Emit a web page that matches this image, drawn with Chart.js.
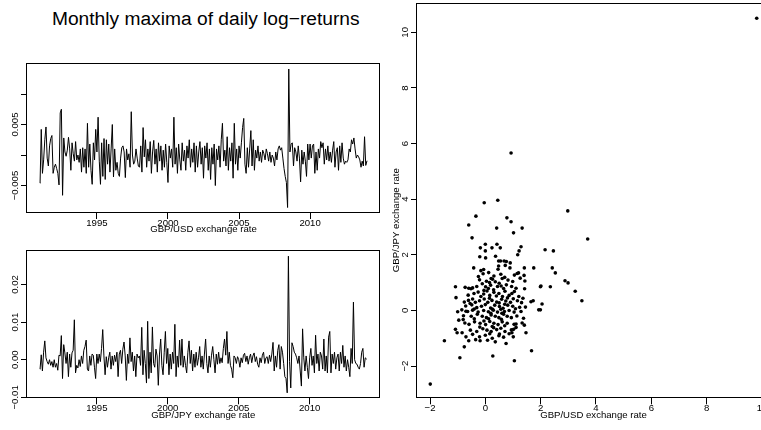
<!DOCTYPE html>
<html>
<head>
<meta charset="utf-8">
<script src="https://cdn.jsdelivr.net/npm/chart.js@4.4.1/dist/chart.umd.min.js"></script>
<style>
html, body { margin:0; padding:0; width:761px; height:430px; overflow:hidden; background:#fff; }
canvas { position:absolute; }
#mainTitle { position:absolute; left:0; top:8.75px; width:411.6px; text-align:center;
  font: 19.2px/19.2px "Liberation Sans", Arial, Helvetica, sans-serif; color:#000; white-space:nowrap; }
</style>
</head>
<body>
<div id="mainTitle">Monthly maxima of daily log−returns</div>
<canvas id="usdChart" width="400" height="210" style="left:0;top:40px;width:400px;height:210px"></canvas>
<canvas id="jpyChart" width="400" height="190" style="left:0;top:240px;width:400px;height:190px"></canvas>
<canvas id="scatterChart" width="400" height="430" style="left:390px;top:0;width:400px;height:430px"></canvas>
<script>
// ---------------- data ----------------
const startYear = 1991;            // first month: Jan 1991, monthly steps

// GBP/USD monthly maxima of daily log-returns (Jan 1991 .. Jan 2014)
const gbpUsd = [
  -0.0046, 0.0042, -0.0030, -0.0008, 0.0025, 0.0046, -0.0005, -0.0018, 0.0015, 0.0027, 0.0032, -0.0030,
  -0.0020, -0.0015, -0.0022, -0.0030, -0.0049, 0.0069, 0.0075, -0.0066, 0.0028, 0.0005, -0.0002, 0.0008,
  0.0029, 0.0010, -0.0025, 0.0020, 0.0002, -0.0010, 0.0022, -0.0008, 0.0000, -0.0012, 0.0010, -0.0028,
  0.0012, -0.0020, 0.0010, -0.0030, 0.0052, -0.0020, 0.0018, -0.0025, -0.0048, 0.0020, -0.0008, 0.0042,
  0.0005, 0.0062, -0.0010, -0.0048, 0.0020, -0.0035, 0.0027, -0.0040, 0.0025, -0.0015, 0.0018, -0.0028,
  0.0010, 0.0050, -0.0036, 0.0010, -0.0025, -0.0012, -0.0030, -0.0035, -0.0005, 0.0012, 0.0015, 0.0005,
  -0.0037, 0.0010, -0.0008, 0.0002, -0.0020, 0.0071, 0.0000, -0.0015, -0.0010, 0.0010, -0.0005, -0.0018,
  -0.0020, 0.0015, -0.0028, 0.0045, -0.0003, 0.0025, -0.0020, 0.0010, -0.0010, 0.0022, -0.0030, 0.0005,
  0.0024, -0.0015, 0.0010, -0.0028, 0.0020, -0.0010, 0.0015, -0.0025, 0.0008, -0.0020, 0.0018, -0.0012,
  -0.0045, 0.0015, -0.0005, 0.0010, -0.0020, 0.0062, -0.0015, 0.0012, -0.0030, 0.0018, -0.0008, -0.0025,
  0.0020, -0.0010, 0.0008, -0.0025, 0.0015, -0.0005, 0.0025, -0.0020, 0.0010, -0.0012, 0.0020, -0.0028,
  0.0015, -0.0020, 0.0005, 0.0022, -0.0015, 0.0012, -0.0038, 0.0015, -0.0005, 0.0020, -0.0025, 0.0010,
  -0.0040, 0.0012, -0.0015, 0.0018, -0.0050, 0.0010, -0.0008, 0.0015, -0.0020, 0.0025, 0.0052, -0.0010,
  0.0008, -0.0018, 0.0030, -0.0025, 0.0012, -0.0010, 0.0020, -0.0038, 0.0052, -0.0015, 0.0010, -0.0025,
  0.0015, -0.0005, 0.0020, 0.0045, 0.0060, -0.0015, -0.0030, 0.0012, -0.0020, 0.0010, 0.0040, -0.0018,
  0.0025, -0.0025, 0.0008, -0.0005, 0.0015, -0.0010, 0.0005, -0.0012, 0.0008, 0.0002, -0.0008, 0.0010,
  0.0002, -0.0010, 0.0005, -0.0012, 0.0000, -0.0005, -0.0018, 0.0005, -0.0008, 0.0010, 0.0015, 0.0008,
  0.0012, -0.0005, -0.0022, -0.0035, -0.0045, -0.0086, 0.0141, 0.0005, 0.0018, 0.0020, -0.0018, 0.0012,
  0.0005, -0.0010, 0.0015, -0.0005, -0.0044, 0.0008, -0.0015, 0.0005, -0.0010, -0.0035, 0.0018, -0.0008,
  0.0018, -0.0005, 0.0015, 0.0018, -0.0030, 0.0005, -0.0025, 0.0010, -0.0005, 0.0022, 0.0012, 0.0020,
  -0.0015, 0.0010, -0.0008, 0.0015, -0.0010, 0.0005, -0.0012, 0.0008, 0.0022, -0.0020, 0.0005, 0.0012,
  -0.0025, 0.0015, -0.0012, 0.0020, -0.0005, -0.0015, -0.0010, -0.0012, -0.0008, 0.0010, 0.0005, 0.0025,
  0.0018, 0.0028, 0.0010, -0.0005, 0.0000, -0.0003, -0.0008, -0.0020, -0.0010, -0.0018, 0.0030, -0.0017,
  -0.0010
];

// GBP/JPY monthly maxima of daily log-returns (Jan 1991 .. Jan 2014)
const gbpJpy = [
  -0.0025, 0.0013, -0.0030, 0.0020, 0.0050, 0.0005, -0.0005, -0.0012, 0.0000, -0.0015, -0.0005, -0.0020,
  0.0000, -0.0020, -0.0010, -0.0028, 0.0012, 0.0010, 0.0064, -0.0050, 0.0040, 0.0018, -0.0010, 0.0020,
  -0.0045, 0.0015, -0.0020, 0.0018, 0.0025, 0.0106, -0.0035, -0.0015, -0.0022, 0.0000, -0.0018, 0.0010,
  -0.0010, 0.0025, 0.0035, 0.0052, -0.0025, -0.0030, 0.0010, -0.0015, 0.0015, 0.0012, -0.0020, -0.0050,
  0.0015, -0.0010, 0.0015, -0.0005, 0.0030, 0.0080, 0.0010, -0.0040, 0.0008, -0.0020, 0.0005, 0.0020,
  -0.0025, 0.0010, -0.0015, 0.0012, -0.0005, 0.0020, -0.0045, 0.0015, 0.0025, -0.0010, 0.0028, 0.0047,
  0.0010, -0.0055, 0.0015, -0.0010, 0.0058, -0.0005, 0.0020, -0.0030, 0.0010, -0.0045, 0.0015, 0.0005,
  0.0010, -0.0015, 0.0086, -0.0040, 0.0025, -0.0010, -0.0062, 0.0102, -0.0050, 0.0020, -0.0035, 0.0087,
  -0.0010, -0.0020, 0.0028, 0.0010, -0.0068, 0.0015, 0.0055, -0.0015, -0.0040, 0.0020, 0.0075, -0.0010,
  0.0030, -0.0040, 0.0015, -0.0025, 0.0020, -0.0010, 0.0094, -0.0045, 0.0010, -0.0020, 0.0052, -0.0015,
  0.0055, -0.0020, 0.0010, -0.0015, -0.0035, 0.0020, 0.0050, -0.0010, 0.0025, -0.0030, 0.0015, -0.0020,
  0.0020, -0.0015, 0.0005, 0.0035, -0.0020, 0.0010, -0.0025, 0.0015, 0.0055, -0.0010, -0.0035, 0.0010,
  -0.0020, 0.0012, 0.0035, 0.0000, -0.0035, 0.0015, -0.0012, 0.0020, -0.0010, 0.0005, -0.0008, 0.0030,
  0.0055, 0.0012, 0.0075, -0.0010, 0.0020, -0.0015, -0.0025, -0.0048, 0.0010, 0.0005, -0.0010, 0.0008,
  0.0000, -0.0020, 0.0005, -0.0008, 0.0012, 0.0017, -0.0005, 0.0010, -0.0012, 0.0005, 0.0015, -0.0008,
  0.0010, 0.0018, -0.0005, 0.0008, -0.0012, -0.0020, 0.0005, -0.0008, 0.0012, 0.0020, -0.0010, 0.0005,
  0.0008, -0.0010, 0.0012, -0.0005, 0.0015, 0.0046, -0.0030, 0.0010, -0.0020, 0.0025, 0.0040, -0.0025,
  0.0035, 0.0020, -0.0010, -0.0045, -0.0050, -0.0088, 0.0275, -0.0005, -0.0075, 0.0045, 0.0035, 0.0020,
  0.0015, 0.0005, -0.0010, 0.0010, -0.0030, -0.0070, 0.0082, 0.0005, -0.0030, 0.0010, -0.0020, -0.0050,
  0.0005, 0.0030, -0.0015, 0.0010, -0.0035, 0.0065, -0.0010, 0.0015, -0.0030, 0.0020, 0.0010, -0.0025,
  0.0055, -0.0030, 0.0010, -0.0035, 0.0060, 0.0075, -0.0035, 0.0015, -0.0010, 0.0020, -0.0025, 0.0005,
  0.0015, -0.0030, 0.0020, -0.0010, 0.0038, -0.0020, 0.0010, -0.0030, 0.0000, -0.0020, -0.0045, 0.0030,
  -0.0010, 0.0153, 0.0000, -0.0010, -0.0012, -0.0020, -0.0025, -0.0010, 0.0020, 0.0030, -0.0020, 0.0005,
  0.0002
];

// Scatter: transformed GBP/USD (x) vs GBP/JPY (y)
const scatterUsd = [
  9.81, 0.93, -0.04, 0.45, 2.98, -0.34, -0.60, 0.78, 0.93, 0.41,
  1.33, 1.02, -0.48, 3.70, 0.00, 0.42, -0.18, 0.24, 0.54, 1.29,
  0.00, 2.16, 2.46, 1.22, 1.17, 0.37, -0.20, 0.01, 0.48, 0.55,
  0.68, 0.76, 0.72, 0.90, 0.48, 0.46, -0.42, -0.06, -0.16, 0.89,
  1.41, 1.75, 2.42, 2.53, 1.20, 2.88, 2.99, 3.25, 3.49, 2.35,
  1.99, 2.01, 1.99, 1.93, 2.05, 1.65, 1.73, -1.08, -0.73, -0.60,
  -0.52, -1.06, -1.00, -0.96, -0.80, -0.70, -1.08, -1.02, -0.84, -0.70,
  -1.48, -0.60, -0.76, -0.92, 0.27, 1.05, 1.67, -1.99, -0.19, 0.08,
  0.36, 0.75, 0.51, 0.96, 1.02, 1.47, 1.41, 1.33, 1.11, 1.38,
  -0.08, 0.12, 0.31, 0.56, 0.70, 1.05, 1.15, 1.40, 0.21, -0.25,
  -0.21, 0.04, 0.26, 0.36, 0.61, 0.82, 0.99, 1.26, 1.43, -0.11, 0.50, 0.15,
  -0.46, -0.31, 0.01, 0.11, 0.19, 0.44, 0.66, 0.76, 0.95, 1.11, 1.42, -0.05, 0.30, 0.57,
  -0.62, -0.41, -0.26, -0.06, 0.06, 0.16, 0.31, 0.49, 0.71, 0.86, 0.96, 1.21, -0.16, 0.40, 0.62, 1.05,
  -0.76, -0.61, -0.46, -0.36, -0.21, -0.04, 0.09, 0.24, 0.41, 0.59, 0.74, 0.91, 1.01, 1.16, 1.31, 1.36, -0.55, 0.15, 0.50, 0.80,
  -0.71, -0.49, -0.31, -0.14, 0.00, 0.19, 0.34, 0.51, 0.64, 0.81, 0.99, 1.09, 1.24, -0.40, 0.25, 0.70, 1.45,
  -0.64, -0.46, -0.26, -0.06, 0.11, 0.29, 0.44, 0.56, 0.69, 0.86, 1.04, 1.29, -0.85, 0.20, 0.60,
  -0.51, -0.29, -0.11, 0.04, 0.21, 0.36, 0.49, 0.66, 0.79, 0.94, 1.14, -0.79, 0.12, 0.58, -0.40,
  -0.59, -0.39, -0.19, 0.01, 0.16, 0.31, 0.46, 0.61, 0.79, 1.04, -0.74, -0.05, 0.70, 0.25,
  -0.54, -0.31, -0.09, 0.06, 0.21, 0.41, 0.56, 0.71, 0.94, 1.11, -0.20, 0.30,
  -0.46, -0.21, 0.00, 0.16, 0.49, 0.66, 0.86, 1.01, -0.35, 0.25
];
const scatterJpy = [
  10.51, 5.66, 3.87, 3.96, 3.58, 3.39, 3.07, 3.33, 3.19, 2.96,
  2.96, 2.79, 2.61, 2.57, 2.38, 2.38, 2.25, 2.25, 2.25, 2.29,
  2.14, 2.18, 2.14, 2.14, 2.00, 1.95, 1.93, 1.89, 1.78, 1.78,
  1.78, 1.76, 1.62, 1.71, 1.60, 1.48, 1.53, 1.47, 1.43, 1.53,
  1.53, 1.53, 1.53, 1.35, 1.35, 1.07, 0.99, 0.69, 0.35, 0.85,
  0.85, 0.88, 0.02, 0.02, 0.23, 0.31, 0.35, 0.85, 0.83, 0.80,
  0.78, 0.46, -0.05, -0.35, -0.33, -0.03, -0.68, -0.80, -0.80, -0.95,
  -1.09, -1.09, -1.31, -1.70, -1.64, -1.81, -1.45, -2.65, -1.09, -1.07,
  -1.13, -1.19, -0.85, -0.80, -0.68, -0.80, -0.53, -0.45, -0.49, -0.28,
  1.32, 1.36, 1.24, 1.30, 1.19, 1.27, 1.33, 1.26, 1.15, 1.22,
  1.10, 1.05, 1.12, 1.03, 1.15, 1.09, 1.04, 1.16, 1.06, 0.96, 0.98, 1.00,
  0.81, 0.86, 0.85, 0.79, 0.91, 0.86, 0.79, 0.92, 0.86, 0.80, 0.78, 0.72, 0.74, 0.88,
  0.55, 0.61, 0.66, 0.59, 0.70, 0.54, 0.65, 0.61, 0.69, 0.54, 0.61, 0.50, 0.50, 0.52, 0.50, 0.68,
  0.30, 0.36, 0.41, 0.29, 0.35, 0.41, 0.29, 0.36, 0.30, 0.40, 0.34, 0.29, 0.42, 0.35, 0.28, 0.44, 0.25, 0.44, 0.27, 0.45,
  0.16, 0.20, 0.10, 0.15, 0.21, 0.09, 0.19, 0.14, 0.08, 0.19, 0.15, 0.06, 0.11, 0.05, 0.05, 0.22, 0.12,
  -0.04, 0.01, -0.06, 0.00, -0.05, 0.01, -0.06, 0.04, -0.04, 0.00, -0.06, -0.04, 0.02, -0.10, -0.10,
  -0.21, -0.14, -0.21, -0.26, -0.16, -0.21, -0.26, -0.14, -0.21, -0.26, -0.20, -0.19, -0.30, -0.32, -0.30,
  -0.50, -0.41, -0.46, -0.51, -0.40, -0.46, -0.51, -0.41, -0.46, -0.50, -0.45, -0.38, -0.55, -0.58,
  -0.71, -0.76, -0.66, -0.71, -0.76, -0.69, -0.64, -0.76, -0.70, -0.61, -0.60, -0.62,
  -0.86, -0.95, -0.89, -0.84, -0.91, -0.96, -0.84, -0.95, -1.05, -1.00
];

// tick values and labels
const yearTicks = [1995, 2000, 2005, 2010];
const yearLabels = ['1995', '2000', '2005', '2010'];
const usdYTicks = [-0.005, 0, 0.005, 0.010];
const usdYLabels = ['−0.005', '', '0.005', ''];
const jpyYTicks = [-0.01, 0, 0.01, 0.02];
const jpyYLabels = ['−0.01', '0.00', '0.01', '0.02'];
const scatterTicks = [-2, 0, 2, 4, 6, 8, 10];
const scatterLabels = ['−2', '0', '2', '4', '6', '8', '10'];

// ---------------- drawing ----------------
const FONT = '"Liberation Sans", Arial, Helvetica, sans-serif';
const FS = 9.6;
const monthTimes = gbpUsd.map((_, i) => startYear + i / 12);

const rFrame = {
  id: 'rFrame',
  afterDraw(chart, _args, o) {
    const { ctx, chartArea: a } = chart;
    const L = Math.round(a.left), T = Math.round(a.top), R = Math.round(a.right), B = Math.round(a.bottom);
    ctx.save();
    ctx.strokeStyle = '#000';
    ctx.lineWidth = 1;
    ctx.strokeRect(L - 0.5, T - 0.5, R - L, B - T);
    ctx.fillStyle = '#000';
    ctx.font = FS + 'px ' + FONT;
    ctx.textAlign = 'center';
    ctx.textBaseline = 'middle';
    const ys = chart.scales.y;
    o.yTicks.forEach((v, i) => {
      const lab = o.yLabels[i];
      if (!lab) return;
      ctx.save();
      ctx.translate(a.left - o.yLabelGap, ys.getPixelForValue(v));
      ctx.rotate(-Math.PI / 2);
      ctx.fillText(lab, 0, 0);
      ctx.restore();
    });
    ctx.fillText(o.xTitle, (a.left + a.right) / 2, a.bottom + o.xTitleGap);
    if (o.yTitle) {
      ctx.save();
      ctx.translate(a.left - o.yTitleGap, (a.top + a.bottom) / 2 + o.yTitleShift);
      ctx.rotate(-Math.PI / 2);
      ctx.fillText(o.yTitle, 0, 0);
      ctx.restore();
    }
    ctx.restore();
  }
};

function xAxis(min, max, ticks, labels, height) {
  return {
    type: 'linear', min, max,
    afterBuildTicks: ax => { ax.ticks = ticks.map(v => ({ value: v })); },
    afterFit: ax => { ax.height = height; },
    grid: { drawOnChartArea: false, drawTicks: true, tickLength: 6, color: '#000', tickColor: '#000', lineWidth: 1 },
    border: { display: false },
    ticks: { display: true, autoSkip: false, maxRotation: 0, minRotation: 0, padding: -1.4,
      color: '#000', font: { family: FONT, size: FS }, callback: (v, i) => labels[i] }
  };
}
function yAxis(min, max, ticks) {
  return {
    type: 'linear', min, max,
    afterBuildTicks: ax => { ax.ticks = ticks.map(v => ({ value: v })); },
    afterFit: ax => { ax.width = 27; },
    grid: { drawOnChartArea: false, drawTicks: true, tickLength: 6, color: '#000', tickColor: '#000', lineWidth: 1 },
    border: { display: false },
    ticks: { display: false }
  };
}
function baseOptions(padding, scales, frame) {
  return {
    responsive: false, animation: false, events: [],
    layout: { padding },
    scales,
    plugins: { legend: { display: false }, tooltip: { enabled: false }, title: { display: false }, rFrame: frame }
  };
}
function lineDataset(values) {
  return {
    data: values.map((v, i) => ({ x: monthTimes[i], y: v })),
    borderColor: '#000', borderWidth: 1, pointRadius: 0, tension: 0, fill: false,
    borderJoinStyle: 'round', borderCapStyle: 'round'
  };
}

new Chart(document.getElementById('usdChart'), {
  type: 'line',
  data: { datasets: [lineDataset(gbpUsd)] },
  options: baseOptions({ left: 0, top: 23.5, right: 20, bottom: 0 }, {
    x: xAxis(1990.08, 2014.92, yearTicks, yearLabels, 37),
    y: yAxis(-0.0095, 0.0150, usdYTicks)
  }, { yTicks: usdYTicks, yLabels: usdYLabels, yLabelGap: 12, xTitle: 'GBP/USD exchange rate', xTitleGap: 16.7 }),
  plugins: [rFrame]
});

new Chart(document.getElementById('jpyChart'), {
  type: 'line',
  data: { datasets: [lineDataset(gbpJpy)] },
  options: baseOptions({ left: 0, top: 10.7, right: 20.5, bottom: 0 }, {
    x: xAxis(1990.08, 2014.92, yearTicks, yearLabels, 31.7),
    y: yAxis(-0.01025, 0.02895, jpyYTicks)
  }, { yTicks: jpyYTicks, yLabels: jpyYLabels, yLabelGap: 12, xTitle: 'GBP/JPY exchange rate', xTitleGap: 16.7 }),
  plugins: [rFrame]
});

new Chart(document.getElementById('scatterChart'), {
  type: 'scatter',
  data: { datasets: [{
    data: scatterUsd.map((v, i) => ({ x: v, y: scatterJpy[i] })),
    backgroundColor: '#000', borderWidth: 0, pointRadius: 1.8, pointStyle: 'circle'
  }] },
  options: baseOptions({ left: 0, top: 3.5, right: 20, bottom: 0 }, {
    x: xAxis(-2.47, 10.29, scatterTicks, scatterLabels, 31.7),
    y: yAxis(-3.16, 11.02, scatterTicks)
  }, { yTicks: scatterTicks, yLabels: scatterLabels, yLabelGap: 12, xTitle: 'GBP/USD exchange rate', xTitleGap: 16.7,
       yTitle: 'GBP/JPY exchange rate', yTitleGap: 20.3, yTitleShift: 19 }),
  plugins: [rFrame]
});
</script>
</body>
</html>
